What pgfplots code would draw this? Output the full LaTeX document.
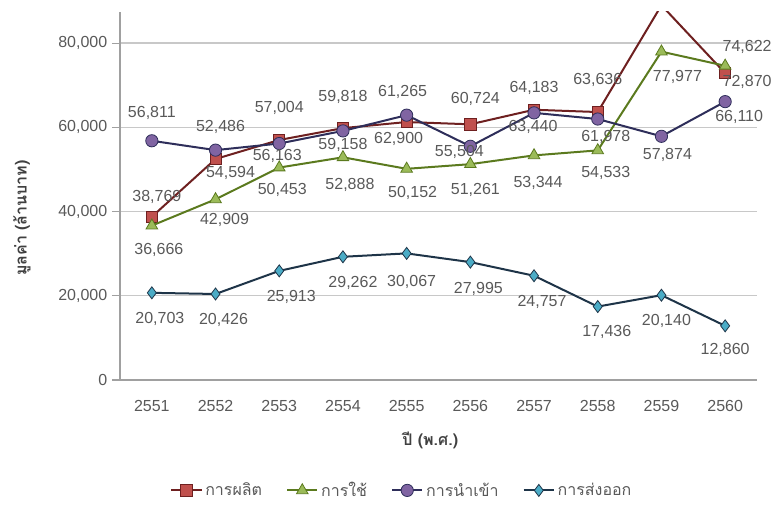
\documentclass[border=0pt]{standalone}
\usepackage{pgfplots}
\pgfplotsset{compat=1.18}
\usepackage{pgfplotstable}
\usepackage{fontspec}
\setmainfont{Liberation Sans}
\newfontfamily\thai[Script=Thai]{Loma}
\definecolor{txt}{HTML}{595959}
\definecolor{gridc}{HTML}{C8C8C8}
\definecolor{axc}{HTML}{A0A0A0}
\definecolor{prodL}{HTML}{6E2020}
\definecolor{prodM}{HTML}{C0504D}
\definecolor{useL}{HTML}{5B7A1E}
\definecolor{useM}{HTML}{9BBB59}
\definecolor{impL}{HTML}{2E2E5A}
\definecolor{impM}{HTML}{8064A2}
\definecolor{expL}{HTML}{1E3448}
\definecolor{expM}{HTML}{4BACC6}

\pgfplotstableread{
x y lab dx dy
0 38769 38,769 5 -20
1 52486 52,486 5 -32
2 57004 57,004 0 -32
3 59818 59,818 0 -31
4 61265 61,265 -4 -30
5 60724 60,724 5 -25
6 64183 64,183 0 -22
7 63636 63,636 0 -32
8 89000 {} 0 0
9 72870 72,870 22 9
}\prodtab
\pgfplotstableread{
x y lab dx dy
0 36666 36,666 7 24
1 42909 42,909 9 21
2 50453 50,453 3 22
3 52888 52,888 7 28
4 50152 50,152 6 24
5 51261 51,261 5 26
6 53344 53,344 4 28
7 54533 54,533 8 23
8 77977 77,977 16 25
9 74622 74,622 22 -19
}\usetab
\pgfplotstableread{
x y lab dx dy
0 56811 56,811 0 -28
1 54594 54,594 15 23
2 56163 56,163 -2 12
3 59158 59,158 0 14
4 62900 62,900 -8 24
5 55504 55,504 -11 6
6 63440 63,440 -1 14
7 61978 61,978 8 18
8 57874 57,874 6 19
9 66110 66,110 14 15
}\imptab
\pgfplotstableread{
x y lab dx dy
0 20703 20,703 8 26
1 20426 20,426 8 26
2 25913 25,913 12 26
3 29262 29,262 10 26
4 30067 30,067 5 29
5 27995 27,995 8 27
6 24757 24,757 8 26
7 17436 17,436 9 25
8 20140 20,140 5 26
9 12860 12,860 0 24
}\exptab

\begin{document}
\begin{tikzpicture}
\path[use as bounding box] (-90pt,-94.5pt) rectangle (492pt,285pt);
\begin{axis}[
  at={(0,0)}, anchor=south west,
  scale only axis,
  width=477.75pt, height=276pt,
  xmin=-0.5, xmax=9.5,
  ymin=0, ymax=87400,
  clip mode=individual,
  axis x line=bottom, axis y line=left,
  axis line style={-, draw=axc, line width=1pt},
  xtick={0,...,9},
  xticklabels={2551,2552,2553,2554,2555,2556,2557,2558,2559,2560},
  xtick style={draw=none},
  ytick={0,20000,40000,60000,80000},
  scaled y ticks=false,
  ytick style={draw=axc, line width=0.8pt},
  tick align=outside,
  major tick length=6pt,
  ymajorgrids,
  grid style={draw=gridc, line width=1pt},
  /pgf/number format/assume math mode=true,
  yticklabel style={/pgf/number format/.cd, fixed, 1000 sep={,}},
  tick label style={font=\fontsize{12}{14}\selectfont, text=txt},
  xticklabel style={yshift=-6pt},
  ylabel={\thai\bfseries มูลค่า (ล้านบาท)},
  every axis y label/.style={at={(axis description cs:-0.154,0.44)}, rotate=90, anchor=center, font=\fontsize{12}{14}\selectfont, text=black!75},
  xlabel={\thai\bfseries ปี (พ.ศ.)},
  every axis x label/.style={at={(axis description cs:0.487,-0.163)}, anchor=center, font=\fontsize{12}{14}\selectfont, text=black!75},
  legend columns=4,
  legend style={at={(axis description cs:0.443,-0.30)}, anchor=center, draw=none, fill=none,
    font=\thai\fontsize{12}{14}\selectfont, text=txt,
    /tikz/every even column/.append style={column sep=16pt}},
  legend image code/.code={\draw[mark repeat=2,mark phase=2] plot coordinates {(0cm,0cm)(0.4cm,0cm)(0.8cm,0cm)};},
  every axis plot/.append style={line width=1.5pt},
  nodes near coords,
  point meta=explicit symbolic,
  visualization depends on={\thisrow{dx} \as \ldx},
  visualization depends on={\thisrow{dy} \as \ldy},
  every node near coord/.append style={anchor=center, xshift=\ldx*0.75pt, yshift=-\ldy*0.75pt,
    font=\fontsize{12}{14}\selectfont, text=txt},
]
\addplot[prodL, mark=square*, mark size=4.2pt, mark options={fill=prodM, draw=prodL, line width=0.6pt}]
  table[x=x, y=y, meta=lab] {\prodtab};
\addlegendentry{การผลิต}
\addplot[useL, mark=triangle*, mark size=5pt, mark options={fill=useM, draw=useL, line width=0.6pt}]
  table[x=x, y=y, meta=lab] {\usetab};
\addlegendentry{การใช้}
\addplot[impL, mark=*, mark size=4.6pt, mark options={fill=impM, draw=impL, line width=0.6pt}]
  table[x=x, y=y, meta=lab] {\imptab};
\addlegendentry{การนำเข้า}
\addplot[expL, mark=diamond*, mark size=4.5pt, mark options={fill=expM, draw=expL, line width=0.6pt}]
  table[x=x, y=y, meta=lab] {\exptab};
\addlegendentry{การส่งออก}
\end{axis}
\end{tikzpicture}
\end{document}
